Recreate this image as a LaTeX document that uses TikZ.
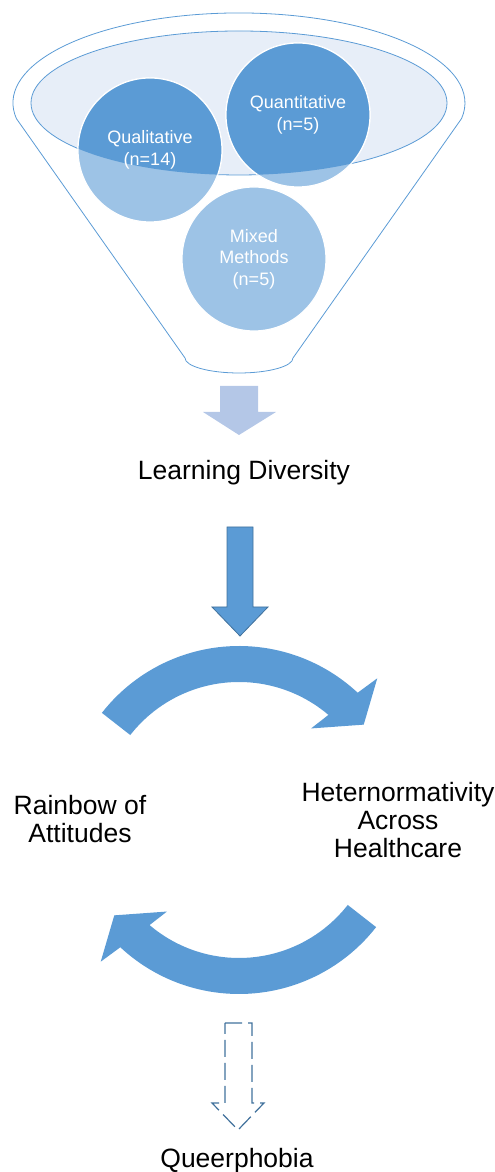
\documentclass[tikz,border=0pt]{standalone}
\usepackage{fontspec}
\setmainfont{Liberation Sans}
\usetikzlibrary{positioning}

\definecolor{funnelblue}{HTML}{5B9BD5}
\definecolor{funnelpale}{HTML}{9DC3E6}
\definecolor{rimfill}{HTML}{E7EEF8}
\definecolor{arrowpale}{HTML}{B4C7E7}
\definecolor{arrowedge}{HTML}{41719C}

\begin{document}
\begin{tikzpicture}[
        x=1pt, y=1pt,
        caption/.style={font=\fontsize{26.5}{28}\selectfont, align=center, inner sep=0pt},
        balltext/.style={font=\fontsize{18}{21.5}\selectfont, align=center, text=white, inner sep=0pt},
        ball/.style={draw=white, line width=1.2pt},
    ]
    \useasboundingbox (0,0) rectangle (495,1172);

    % funnel body and rim
    \draw[funnelblue, line width=0.8pt] (16.4,1053.4)
        arc[start angle=190, end angle=-10, x radius=226, y radius=90]
        -- (293,814) arc[start angle=0, end angle=-180, x radius=54, y radius=15]
        -- cycle;
    \filldraw[fill=rimfill, draw=funnelblue, line width=0.8pt] (239,1069) ellipse [x radius=208, y radius=72];

    % the three groups of studies
    \coordinate (qual) at (150,1022);
    \coordinate (quant) at (298,1057);
    \coordinate (mixed) at (254,913);
    \foreach \c in {qual,quant,mixed}
        \filldraw[ball, fill=funnelpale] (\c) circle (72);
    \begin{scope}
        \clip (239,1069) ellipse [x radius=208, y radius=72];
        \foreach \c in {qual,quant}
            \filldraw[ball, fill=funnelblue] (\c) circle (72);
    \end{scope}
    \node[balltext] (qualtext) at (qual) {Qualitative\\(n=14)};
    \node[balltext] (quanttext) at (quant) {Quantitative\\(n=5)};
    \node[balltext] (mixedtext) at (mixed) {Mixed\\Methods\\(n=5)};

    % out of the funnel
    \fill[arrowpale] (220,786) -- (258,786) -- (258,760) -- (276,760) -- (239,737)
        -- (203,760) -- (220,760) -- cycle;
    \node[caption] (learning) at (244,699) {Learning Diversity};

    \filldraw[fill=funnelblue, draw=arrowedge, line width=0.8pt] (227,645) -- (253,645)
        -- (253,565) -- (268,565) -- (240,536) -- (212,565) -- (227,565) -- cycle;

    % the cycle
    \coordinate (hub) at (239,352);
    \foreach \turn in {0,180}
        \fill[funnelblue, shift={(hub)}, rotate=\turn] (142:174)
            arc[start angle=142, end angle=47, radius=174]
            -- (45.7:198) -- (37.4:157) -- (51.8:116.5) -- (49.6:138)
            arc[start angle=49.6, end angle=142, radius=138] -- cycle;

    \node[caption] (rainbow) at (80,353) {Rainbow of\\Attitudes};
    \node[caption] (hetero) at (398,352) {Heternormativity\\Across\\Healthcare};

    % what comes out of it
    \draw[arrowedge, line width=1.2pt, dash pattern=on 17pt off 6pt] (225,149) -- (252,149)
        -- (252,69) -- (264,69) -- (238,42) -- (212,69) -- (225,69) -- cycle;
    \node[caption, anchor=base] (queer) at (237,5) {Queerphobia};
\end{tikzpicture}
\end{document}
